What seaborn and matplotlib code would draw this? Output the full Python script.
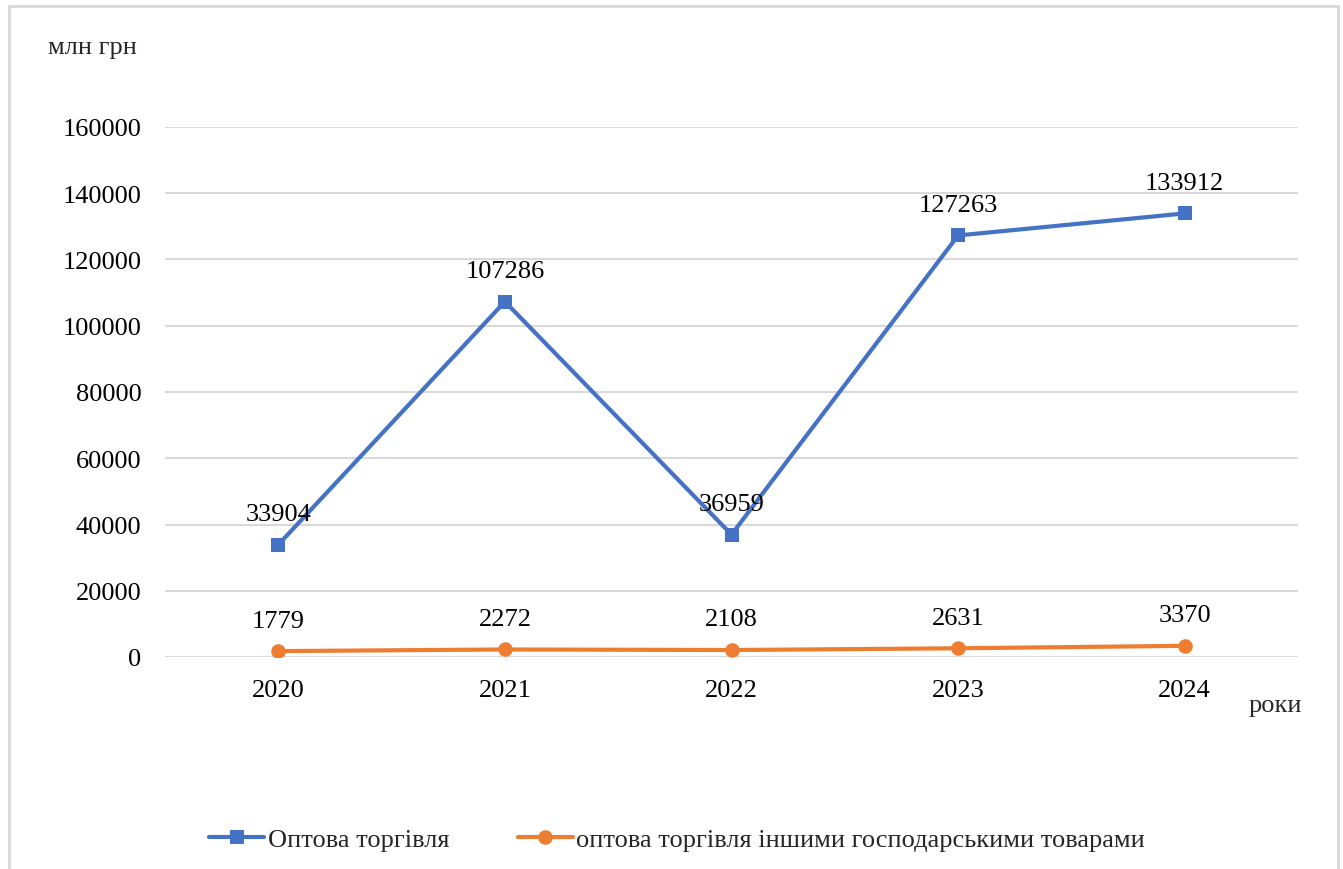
import matplotlib
matplotlib.use("Agg")
import matplotlib.pyplot as plt
from matplotlib.patches import Rectangle
import pandas as pd
import seaborn as sns

years = [2020, 2021, 2022, 2023, 2024]
wholesale = [33904, 107286, 36959, 127263, 133912]
other_goods = [1779, 2272, 2108, 2631, 3370]
series_names = ["Оптова торгівля", "оптова торгівля іншими господарськими товарами"]
y_ticks = [0, 20000, 40000, 60000, 80000, 100000, 120000, 140000, 160000]

df = pd.DataFrame({
    "year": years * 2,
    "value": wholesale + other_goods,
    "series": [series_names[0]] * len(years) + [series_names[1]] * len(years),
})

sns.set_theme(style="white")
plt.rcParams["font.family"] = ["Liberation Serif", "DejaVu Serif"]

W, H = 1343, 870
fig = plt.figure(figsize=(W / 100, H / 100), dpi=100)
ax = fig.add_axes([165 / W, 1 - 658 / H, (1298 - 165) / W, (658 - 128) / H])

palette = {series_names[0]: "#4472C4", series_names[1]: "#ED7D31"}
markers = {series_names[0]: "s", series_names[1]: "o"}
sns.lineplot(data=df, x="year", y="value", hue="series", style="series",
             palette=palette, markers=markers, dashes=False,
             linewidth=3, markersize=10.5, markeredgewidth=0, ax=ax, legend=True)

# value labels above each point
for name, vals in zip(series_names, [wholesale, other_goods]):
    for x, v in zip(years, vals):
        ax.annotate(f"{v}", (x, v), xytext=(0, 22), textcoords="offset points",
                    ha="center", va="center", fontsize=19, color="#000000")

ax.set_xlim(2019.5, 2024.5)
ax.set_ylim(0, 160000)
ax.set_xticks(years)
ax.set_xticklabels([str(y) for y in years])
ax.set_yticks(y_ticks)
ax.set_yticklabels([str(t) for t in y_ticks])
ax.tick_params(axis="y", length=0, pad=17, labelsize=19, labelcolor="#000000")
ax.tick_params(axis="x", length=0, pad=16, labelsize=19, labelcolor="#000000")
ax.set_xlabel("")
ax.set_ylabel("")
for s in ax.spines.values():
    s.set_visible(False)
ax.yaxis.grid(True, color="#D9D9D9", linewidth=1.5)
ax.xaxis.grid(False)
ax.set_axisbelow(True)

fig.text(48 / W, 1 - 48 / H, "млн грн", fontsize=19, ha="left", va="center")
fig.text(1302 / W, 1 - 706 / H, "роки", fontsize=19, ha="right", va="center")

handles, labels = ax.get_legend_handles_labels()
ax.legend_.remove()
fig.legend(handles, labels, loc="center", bbox_to_anchor=(677 / W, 1 - 840 / H),
           ncol=2, frameon=False, fontsize=19, handlelength=2.1,
           handletextpad=0.12, columnspacing=2.6)

fig.add_artist(Rectangle((9 / W, -0.05), (1338 - 9) / W, 1.05 - 7 / H,
                         transform=fig.transFigure, fill=False,
                         edgecolor="#D9D9D9", linewidth=2))

fig.savefig("out.png", dpi=100)
